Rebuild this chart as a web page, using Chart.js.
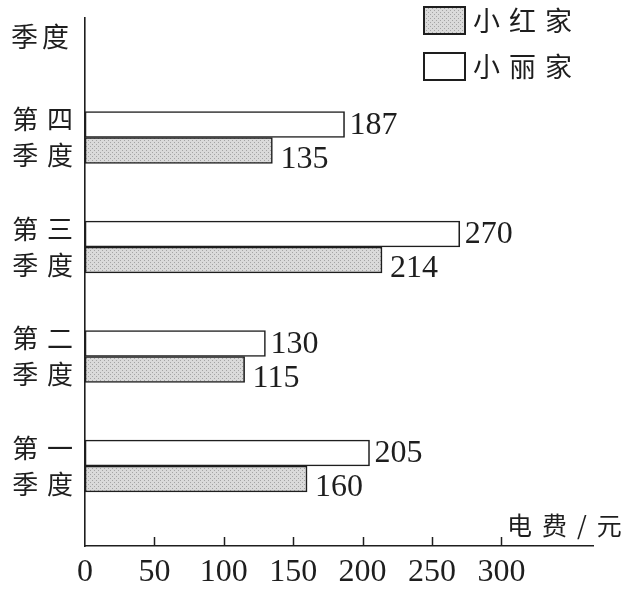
<!DOCTYPE html>
<html>
<head>
<meta charset="utf-8">
<script src="https://cdn.jsdelivr.net/npm/chart.js@4.4.1/dist/chart.umd.min.js"></script>
<style>
  html, body { margin: 0; padding: 0; background: #fff; }
  #wrap { width: 628px; height: 590px; }
</style>
</head>
<body>
<div id="wrap"><canvas id="elecChart" width="628" height="590"></canvas></div>
<script>
// data (bottom to top)
const quarters = ['第一季度', '第二季度', '第三季度', '第四季度'];
const xiaohong = [160, 115, 214, 135];
const xiaoli = [205, 130, 270, 187];
const xTicks = [0, 50, 100, 150, 200, 250, 300];

const INK = '#1e1e1e';
const CJK = '"Noto Sans CJK SC", sans-serif';
const SERIF = '"Liberation Serif", "DejaVu Serif", serif';
const SP = '\u2004';

const canvas = document.getElementById('elecChart');
const ctx = canvas.getContext('2d');

// dotted gray fill like the printed figure
function makeDots() {
    const c = document.createElement('canvas');
    c.width = 4; c.height = 4;
    const g = c.getContext('2d');
    g.fillStyle = '#dadada';
    g.fillRect(0, 0, 4, 4);
    g.fillStyle = '#a4a4a4';
    g.fillRect(0, 0, 1, 1);
    g.fillRect(2, 2, 1, 1);
    return ctx.createPattern(c, 'repeat');
}
const dots = makeDots();

// --- extra drawing: tick marks, value labels, legend, axis names ---
const extras = {
    id: 'extras',
    afterDatasetsDraw(chart) {
        const c = chart.ctx;
        const xs = chart.scales.x;
        const area = chart.chartArea;
        c.save();

        // small ticks pointing up from the x axis
        c.strokeStyle = INK;
        c.lineWidth = 1.5;
        xTicks.forEach(v => {
            if (!v) return;
            const px = Math.round(xs.getPixelForValue(v)) + 0.5;
            c.beginPath();
            c.moveTo(px, area.bottom);
            c.lineTo(px, area.bottom - 9);
            c.stroke();
        });

        // numbers at the end of bars
        c.font = '32px ' + SERIF;
        c.fillStyle = INK;
        c.textBaseline = 'middle';
        c.textAlign = 'left';
        chart.data.datasets.forEach((ds, i) => {
            const meta = chart.getDatasetMeta(i);
            meta.data.forEach((bar, j) => {
                c.fillText(String(ds.data[j].x), bar.x + ds.labelGap, bar.y + ds.labelDrop);
            });
        });

        // legend (小红家 first)
        c.font = '27px ' + CJK;
        c.letterSpacing = '9px';
        [1, 0].forEach((i, k) => {
            const ds = chart.data.datasets[i];
            const top = 7 + k * 46;
            c.fillStyle = ds.backgroundColor;
            c.fillRect(424, top, 41, 27);
            c.lineWidth = 2;
            c.strokeStyle = INK;
            c.strokeRect(424, top, 41, 27);
            c.fillStyle = INK;
            c.fillText(ds.label, 473, top + 14);
        });

        // axis names
        c.letterSpacing = '4px';
        c.font = '27px ' + CJK;
        c.fillText('季度', 11, 37);
        c.letterSpacing = '10px';
        c.font = '25px ' + CJK;
        c.fillText('电费/元', 507, 525);
        c.restore();
    }
};

new Chart(ctx, {
    type: 'bar',
    data: {
        datasets: [
            {
                label: '小丽家',
                data: xiaoli.map((v, i) => ({ x: v, y: i + 1 })),
                backgroundColor: '#ffffff',
                labelGap: 5,
                labelDrop: 1
            },
            {
                label: '小红家',
                data: xiaohong.map((v, i) => ({ x: v, y: i + 1 })),
                backgroundColor: dots,
                labelGap: 8,
                labelDrop: 9
            }
        ]
    },
    options: {
        indexAxis: 'y',
        responsive: false,
        animation: false,
        events: [],
        barThickness: 26,
        borderColor: INK,
        borderWidth: 1.6,
        borderSkipped: false,
        layout: { padding: { top: 18, right: 35, bottom: 0, left: 0 } },
        plugins: {
            legend: { display: false },
            tooltip: { enabled: false }
        },
        scales: {
            x: {
                type: 'linear',
                min: 0,
                max: 366,
                grid: { display: false, drawTicks: false },
                border: { display: true, color: INK, width: 1.6 },
                afterBuildTicks: s => { s.ticks = xTicks.map(v => ({ value: v })); },
                afterFit: s => { s.height = 44; s.paddingLeft = 0; s.paddingRight = 0; },
                ticks: {
                    autoSkip: false,
                    maxRotation: 0,
                    padding: 11,
                    color: INK,
                    font: { family: SERIF, size: 32, lineHeight: 1 }
                }
            },
            y: {
                type: 'linear',
                min: 0.2694,
                max: 5.091,
                offset: false,
                grid: { display: false, drawTicks: false, offset: false },
                border: { display: true, color: INK, width: 1.6 },
                afterBuildTicks: s => { s.ticks = quarters.map((q, i) => ({ value: i + 1 })); },
                afterFit: s => { s.width = 85; s.paddingTop = 0; s.paddingBottom = 0; },
                ticks: {
                    autoSkip: false,
                    padding: 12,
                    color: INK,
                    font: { family: CJK, size: 26, lineHeight: 1.38 },
                    callback: v => {
                        const q = quarters[v - 1];
                        return q ? [q[0] + SP + q[1], q[2] + SP + q[3]] : '';
                    }
                }
            }
        }
    },
    plugins: [extras]
});
</script>
</body>
</html>
